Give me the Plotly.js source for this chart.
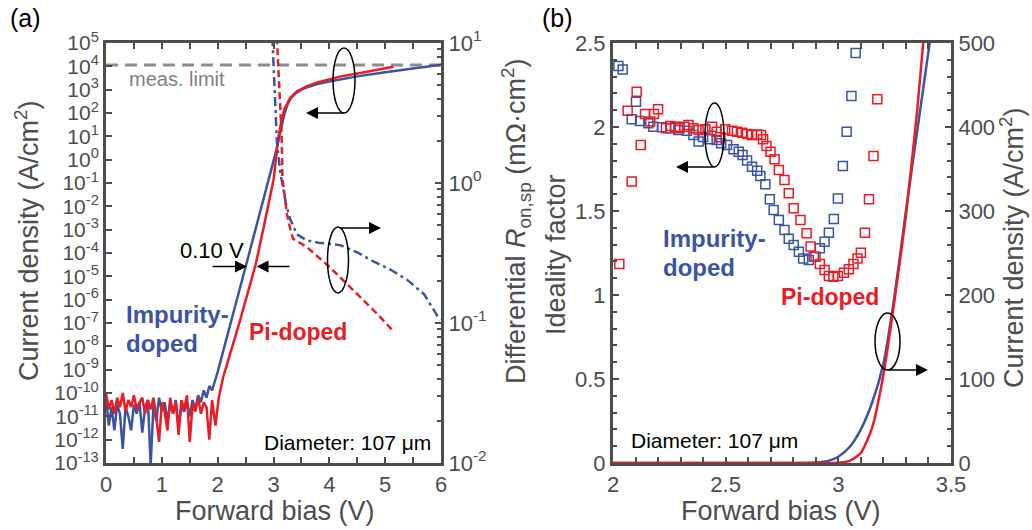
<!DOCTYPE html>
<html>
<head>
<meta charset="utf-8">
<script src="https://cdn.plot.ly/plotly-3.0.1.min.js"></script>
<style>html,body{margin:0;padding:0;background:#fff;}#chart{width:1032px;height:530px;}</style>
</head>
<body>
<div id="chart"></div>
<script>
// ---------- Panel (a): current density (left, log) ----------
const aV_imp = [0.00,0.05,0.10,0.15,0.20,0.25,0.30,0.35,0.40,0.45,0.50,0.55,0.60,0.65,0.70,0.75,0.80,0.85,0.90,0.95,
  1.00,1.05,1.10,1.15,1.20,1.25,1.30,1.35,1.40,1.45,1.50,1.55,1.60,1.65,1.70,1.75,1.80,1.85,1.90,1.95,
  2.00,2.50,2.80,2.90,3.00,3.05,3.10,3.15,3.20,3.25,3.30,3.40,3.50,3.60,3.80,4.00,4.50,5.00,5.50,6.00];
const aJ_imp = [6.3e-11,4e-12,2.5e-11,2.5e-12,3.2e-11,1.3e-11,4e-13,2.5e-11,1e-11,2.5e-12,3.2e-11,1.3e-11,4e-11,2e-12,2.5e-11,5e-11,8e-14,3.2e-11,6.3e-12,6.3e-11,
  1.6e-11,4e-11,6.3e-12,3.2e-11,1.3e-11,5e-11,4e-12,2.5e-11,1.6e-11,4e-11,1e-11,5e-11,2e-11,8e-11,4e-11,1.3e-10,6.3e-11,2e-10,1.3e-10,3.2e-10,
  8e-10,2.5e-5,0.0126,0.1,0.79,2.5,8.9,31.6,100,224,398,708,1000,1259,1778,2239,3715,5623,8318,11749];
const aV_pi = [0.00,0.05,0.10,0.15,0.20,0.25,0.30,0.35,0.40,0.45,0.50,0.55,0.60,0.65,0.70,0.75,0.80,0.85,0.90,0.95,
  1.00,1.05,1.10,1.15,1.20,1.25,1.30,1.35,1.40,1.45,1.50,1.55,1.60,1.65,1.70,1.75,1.80,1.85,1.90,1.96,
  2.02,2.10,2.40,2.68,2.85,3.00,3.09,3.15,3.20,3.30,3.41,3.60,3.80,4.19,4.60,5.15];
const aJ_pi = [1e-10,2e-11,5e-11,1.3e-11,6.3e-11,2.5e-11,1e-10,1.6e-11,5e-11,2.5e-11,8e-11,2e-11,4e-11,6.3e-11,1.3e-11,5e-11,2e-11,6.3e-11,1e-11,8e-13,
  4e-11,1.6e-11,2.5e-12,6.3e-11,1.3e-11,4e-11,1.6e-12,5e-11,2e-11,8e-11,8e-13,3.2e-11,1.6e-11,6.3e-11,1.3e-11,4e-11,2.5e-11,1e-12,5e-11,4e-12,
  6.3e-11,5e-10,1.26e-7,3.2e-5,2.5e-3,0.135,10,56,158,447,813,1413,2089,3631,5495,9550];
const measLimit = 1.15e4;
const measV = [0, 6];

// ---------- Panel (a): differential Ron,sp (right, log) ----------
const ronV_imp = [2.98,3.02,3.06,3.12,3.16,3.22,3.30,3.42,3.59,3.80,4.19,4.50,4.79,5.10,5.39,5.70,5.98];
const ron_imp  = [11,5,2.0,1.2,0.95,0.72,0.55,0.43,0.39,0.375,0.36,0.32,0.275,0.24,0.204,0.16,0.105];
const ronV_pi = [3.06,3.11,3.145,3.16,3.185,3.21,3.24,3.30,3.35,3.59,4.01,4.49,4.85,5.15];
const ron_pi  = [11,4,2.2,1.1,0.88,0.76,0.6,0.47,0.40,0.35,0.25,0.162,0.117,0.087];

// ---------- Panel (b): ideality factor (left) ----------
const nV_imp = [2.024,2.043,2.083,2.102,2.12,2.157,2.179,2.217,2.254,2.29,2.328,2.357,2.38,2.40,2.43,2.46,2.48,2.506,2.535,2.558,
  2.575,2.595,2.617,2.64,2.654,2.676,2.696,2.713,2.736,2.761,2.78,2.802,2.825,2.844,2.869,2.891,2.918,2.939,2.958,2.98,
  2.998,3.02,3.037,3.058,3.077];
const n_imp = [2.363,2.343,2.046,2.151,2.036,2.022,2.002,1.998,1.992,1.982,1.978,1.952,1.913,1.94,1.927,1.923,1.903,1.893,1.867,1.853,
  1.833,1.80,1.764,1.74,1.708,1.659,1.57,1.506,1.446,1.387,1.335,1.298,1.258,1.218,1.208,1.228,1.278,1.317,1.371,1.452,
  1.575,1.768,1.972,2.185,2.44];
const nV_pi = [2.028,2.083,2.105,2.065,2.123,2.142,2.165,2.182,2.20,2.235,2.254,2.276,2.295,2.316,2.335,2.357,2.38,2.41,2.44,2.46,
  2.476,2.498,2.528,2.55,2.573,2.595,2.617,2.64,2.657,2.666,2.681,2.699,2.717,2.736,2.761,2.78,2.802,2.832,2.859,2.877,
  2.899,2.918,2.939,2.958,2.978,2.998,3.025,3.047,3.067,3.085,3.10,3.118,3.136,3.156,3.173];
const n_pi = [1.185,1.675,2.21,2.097,1.893,2.077,2.032,2.077,2.105,1.992,2.006,2.002,1.992,2.002,2.012,1.992,1.982,1.986,2.002,1.972,
  1.939,1.986,1.978,1.972,1.966,1.958,1.952,1.956,1.952,1.927,1.887,1.853,1.808,1.744,1.685,1.605,1.516,1.446,1.367,1.288,
  1.228,1.185,1.149,1.113,1.109,1.113,1.133,1.153,1.185,1.218,1.252,1.371,1.57,1.827,2.165];

// ---------- Panel (b): current density (right, linear) ----------
const bV_imp = [2.00,2.80,2.85,2.90,2.95,3.00,3.05,3.10,3.15,3.20,3.25,3.30,3.35,3.40,3.42];
const bJ_imp = [0,0,0.1,0.5,2,7.5,19,40,72,118,200,300,395,490,530];
const bV_pi = [2.00,2.95,3.00,3.05,3.10,3.15,3.20,3.25,3.30,3.35,3.38];
const bJ_pi = [0,0,0.3,2.5,12,42,105,195,295,420,510];

// ---------- tick labels ----------
const leftDecades = [5,4,3,2,1,0,-1,-2,-3,-4,-5,-6,-7,-8,-9,-10,-11,-12,-13];
const rightDecades = [1,0,-1,-2];

const BLUE = '#3b54a4', RED = '#ec1c24', AX = '#4d4d4d';
const FONT = 'Liberation Sans, Arial, Helvetica, sans-serif';

const L = 106, R = 81, T = 43, B = 67, W = 1032, H = 530;
const PW = W - L - R, PH = H - T - B;
const px = v => (v - L) / PW;
const py = v => (H - B - v) / PH;

const traces = [
  {x: measV, y: [measLimit, measLimit], xaxis: 'x', yaxis: 'y', mode: 'lines',
   line: {color: '#8c8c8c', width: 3, dash: '12px,7px'}},
  {x: aV_imp, y: aJ_imp, xaxis: 'x', yaxis: 'y', mode: 'lines', line: {color: BLUE, width: 2.5}},
  {x: aV_pi, y: aJ_pi, xaxis: 'x', yaxis: 'y', mode: 'lines', line: {color: RED, width: 2.5}},
  {x: ronV_imp, y: ron_imp, xaxis: 'x', yaxis: 'y2', mode: 'lines', line: {color: BLUE, width: 2.5, dash: '9px,4px,3px,4px'}},
  {x: ronV_pi, y: ron_pi, xaxis: 'x', yaxis: 'y2', mode: 'lines', line: {color: RED, width: 2.5, dash: '7px,4px'}},
  {x: nV_imp, y: n_imp, xaxis: 'x2', yaxis: 'y3', mode: 'markers',
   marker: {symbol: 'square-open', size: 9, color: BLUE, line: {width: 1.5, color: BLUE}}},
  {x: nV_pi, y: n_pi, xaxis: 'x2', yaxis: 'y3', mode: 'markers',
   marker: {symbol: 'square-open', size: 9, color: RED, line: {width: 1.5, color: RED}}},
  {x: bV_imp, y: bJ_imp, xaxis: 'x2', yaxis: 'y4', mode: 'lines', line: {color: BLUE, width: 2.5, shape: 'spline', smoothing: 0.6}},
  {x: bV_pi, y: bJ_pi, xaxis: 'x2', yaxis: 'y4', mode: 'lines', line: {color: RED, width: 2.5, shape: 'spline', smoothing: 0.6}}
];

const axBase = {
  showline: true, linecolor: AX, linewidth: 3, ticks: 'inside', tickcolor: AX,
  tickwidth: 2, ticklen: 6, showgrid: false, zeroline: false,
  tickfont: {family: FONT, size: 22, color: AX}
};

const layout = {
  width: W, height: H,
  margin: {l: L, r: R, t: T, b: B, pad: 0},
  paper_bgcolor: '#fff', plot_bgcolor: '#fff',
  showlegend: false,
  font: {family: FONT, color: AX},
  xaxis: Object.assign({}, axBase, {
    domain: [0, px(441)], range: [0, 6], dtick: 1, mirror: 'allticks', anchor: 'y',
    minor: {dtick: 0.5, ticks: 'inside', ticklen: 4, tickwidth: 2, tickcolor: AX}
  }),
  yaxis: Object.assign({}, axBase, {
    type: 'log', range: [-13, 5], anchor: 'x',
    tickmode: 'array', tickvals: leftDecades.map(d => Math.pow(10, d)),
    ticktext: leftDecades.map(d => '10<sup>' + (d < 0 ? '-' : '') + Math.abs(d) + '</sup>'),
    tickfont: {family: FONT, size: 21, color: AX}
  }),
  yaxis2: Object.assign({}, axBase, {
    type: 'log', range: [-2, 1], overlaying: 'y', side: 'right', anchor: 'x',
    tickmode: 'array', tickvals: rightDecades.map(d => Math.pow(10, d)),
    ticktext: rightDecades.map(d => '10<sup>' + (d < 0 ? '-' : '') + Math.abs(d) + '</sup>'),
    minor: {dtick: 'D1', ticks: 'inside', ticklen: 4, tickwidth: 2, tickcolor: AX}
  }),
  xaxis2: Object.assign({}, axBase, {
    domain: [px(613), 1], range: [2, 3.5], dtick: 0.5, mirror: 'allticks', anchor: 'y3',
    minor: {dtick: 0.1, ticks: 'inside', ticklen: 4, tickwidth: 2, tickcolor: AX}
  }),
  yaxis3: Object.assign({}, axBase, {
    range: [0, 2.5], dtick: 0.5, anchor: 'x2',
    minor: {dtick: 0.1, ticks: 'inside', ticklen: 4, tickwidth: 2, tickcolor: AX}
  }),
  yaxis4: Object.assign({}, axBase, {
    range: [0, 500], dtick: 100, overlaying: 'y3', side: 'right', anchor: 'x2',
    minor: {dtick: 20, ticks: 'inside', ticklen: 4, tickwidth: 2, tickcolor: AX}
  }),
  shapes: [
    {type: 'circle', xref: 'paper', yref: 'paper', x0: px(333), x1: px(355), y0: py(48), y1: py(113), line: {color: '#000', width: 1.5}},
    {type: 'circle', xref: 'paper', yref: 'paper', x0: px(327.5), x1: px(348.5), y0: py(227), y1: py(293), line: {color: '#000', width: 1.5}},
    {type: 'circle', xref: 'paper', yref: 'paper', x0: px(705), x1: px(724), y0: py(103), y1: py(167), line: {color: '#000', width: 1.5}},
    {type: 'circle', xref: 'paper', yref: 'paper', x0: px(875), x1: px(900), y0: py(313), y1: py(370), line: {color: '#000', width: 1.5}}
  ],
  annotations: []
};

function txt(t, x, y, opts) {
  layout.annotations.push(Object.assign({
    text: t, x: px(x), y: py(y), xref: 'paper', yref: 'paper', showarrow: false,
    xanchor: 'center', yanchor: 'middle', font: {family: FONT, size: 22, color: '#000'}
  }, opts || {}));
}
function arrow(hx, hy, tx, ty) {
  layout.annotations.push({
    text: '', x: px(hx), y: py(hy), xref: 'paper', yref: 'paper', showarrow: true,
    ax: tx - hx, ay: ty - hy, arrowhead: 2, arrowsize: 1.6, arrowwidth: 1.5, arrowcolor: '#000', standoff: 0
  });
}

txt('(a)', 25, 18, {font: {family: FONT, size: 25, color: '#000'}});
txt('(b)', 557, 18, {font: {family: FONT, size: 25, color: '#000'}});
txt('Current density (A/cm<sup>2</sup>)', 27, 241, {textangle: -90, font: {family: FONT, size: 27, color: AX}});
txt('Differential <i>R</i><sub>on,sp</sub> (mΩ·cm<sup>2</sup>)', 516, 222, {textangle: -90, font: {family: FONT, size: 27, color: AX}});
txt('Ideality factor', 556, 255, {textangle: -90, font: {family: FONT, size: 27, color: AX}});
txt('Current density (A/cm<sup>2</sup>)', 1012, 248, {textangle: -90, font: {family: FONT, size: 27, color: AX}});
txt('Forward bias (V)', 274.5, 511, {font: {family: FONT, size: 27, color: AX}});
txt('Forward bias (V)', 781, 511, {font: {family: FONT, size: 27, color: AX}});

txt('meas. limit', 127, 79, {xanchor: 'left', font: {family: FONT, size: 20, color: '#808080'}});
txt('0.10 V', 211.5, 250, {font: {family: FONT, size: 22, color: '#000'}});
txt('Impurity-', 124, 315, {xanchor: 'left', font: {family: FONT, size: 24, color: BLUE, weight: 'bold'}});
txt('doped', 124, 343, {xanchor: 'left', font: {family: FONT, size: 24, color: BLUE, weight: 'bold'}});
txt('Pi-doped', 247, 332, {xanchor: 'left', font: {family: FONT, size: 23, color: RED, weight: 'bold'}});
txt('Diameter: 107 μm', 433, 442, {xanchor: 'right', font: {family: FONT, size: 21, color: '#000'}});

txt('Impurity-', 661, 238, {xanchor: 'left', font: {family: FONT, size: 24, color: BLUE, weight: 'bold'}});
txt('doped', 661, 267, {xanchor: 'left', font: {family: FONT, size: 24, color: BLUE, weight: 'bold'}});
txt('Pi-doped', 779, 297, {xanchor: 'left', font: {family: FONT, size: 23, color: RED, weight: 'bold'}});
txt('Diameter: 107 μm', 629, 440, {xanchor: 'left', font: {family: FONT, size: 21, color: '#000'}});

arrow(306, 113, 345, 113);
arrow(381, 228, 338, 228);
arrow(247, 266.5, 211, 266.5);
arrow(256.5, 266.5, 291, 266.5);
arrow(676, 167, 715, 167);
arrow(928, 370, 887, 370);

Plotly.newPlot('chart', traces, layout, {staticPlot: true, displayModeBar: false});
</script>
</body>
</html>
